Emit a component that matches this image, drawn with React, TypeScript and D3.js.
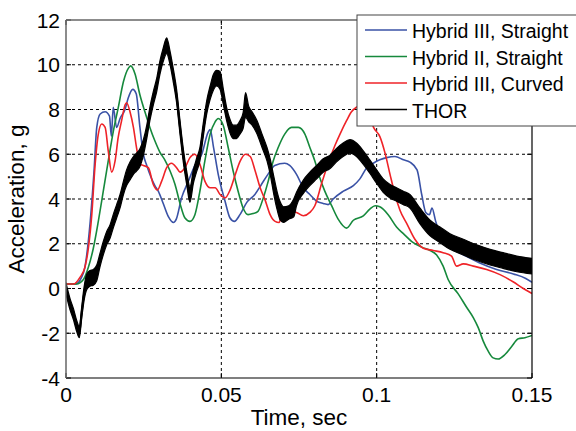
import React from "react";
import * as d3 from "d3";

const xTicks = [0, 0.05, 0.1, 0.15];
const xTickLabels = ["0", "0.05", "0.1", "0.15"];
const yTicks = [-4, -2, 0, 2, 4, 6, 8, 10, 12];
const seriesNames = ["Hybrid III, Straight", "Hybrid II, Straight", "Hybrid III, Curved", "THOR"];
const seriesColors = ["#3a52a6", "#16893c", "#ef2328", "#000000"];

const hybrid3Straight: [number, number][] = [
  [0, 0.2], [0.003, 0.2], [0.005, 0.5], [0.006, 0.9], [0.0078, 3.0], [0.009, 5.2], [0.0099, 7.2],
  [0.011, 7.8], [0.0126, 7.9], [0.014, 7.7], [0.0146, 6.8], [0.0152, 8.1], [0.0163, 7.2], [0.0174, 7.6],
  [0.019, 8.0], [0.02, 8.5], [0.0215, 8.9], [0.0226, 8.7], [0.0238, 7.2], [0.0249, 6.0], [0.026, 5.5],
  [0.0286, 4.6], [0.0297, 4.35], [0.0313, 3.8], [0.033, 3.2], [0.0346, 2.95], [0.0355, 3.1], [0.0372, 4.05],
  [0.0394, 4.8], [0.0415, 5.5], [0.0437, 6.0], [0.0458, 7.0], [0.0464, 7.1], [0.0475, 6.3], [0.049, 5.1],
  [0.0512, 3.9], [0.0528, 3.15], [0.0542, 3.0], [0.056, 3.3], [0.0582, 3.85], [0.0608, 4.2], [0.0629, 4.65],
  [0.065, 5.1], [0.0672, 5.5], [0.0704, 5.6], [0.072, 5.5], [0.0742, 5.1], [0.0764, 4.5], [0.0785, 4.2],
  [0.0807, 3.9], [0.0828, 3.8], [0.0844, 3.75], [0.086, 4.0], [0.0893, 4.35], [0.0925, 4.6], [0.0946, 4.9],
  [0.0968, 5.4], [0.0989, 5.6], [0.101, 5.75], [0.1032, 5.85], [0.1059, 5.9], [0.1086, 5.75], [0.1107, 5.65],
  [0.113, 5.3], [0.1145, 4.2], [0.1158, 3.4], [0.117, 3.3], [0.1178, 3.6], [0.119, 3.0], [0.1215, 2.1],
  [0.124, 1.8], [0.128, 1.5], [0.133, 1.15], [0.1386, 0.85], [0.144, 0.65], [0.148, 0.45], [0.15, 0.28],
];

const hybrid2Straight: [number, number][] = [
  [0, 0.2], [0.0034, 0.2], [0.0056, 0.4], [0.0072, 0.95], [0.0088, 1.8], [0.0104, 3.0], [0.012, 4.35],
  [0.0136, 5.7], [0.0152, 7.0], [0.0168, 8.07], [0.0185, 9.25], [0.0201, 9.85], [0.0208, 9.95], [0.0222, 9.6],
  [0.0238, 8.65], [0.0254, 7.9], [0.027, 7.2], [0.0286, 6.6], [0.0302, 6.1], [0.0318, 5.75], [0.0335, 5.25],
  [0.0351, 4.65], [0.0367, 3.8], [0.0383, 3.15], [0.0399, 3.0], [0.0415, 3.3], [0.0431, 4.35], [0.0447, 5.7],
  [0.0464, 6.9], [0.048, 7.45], [0.049, 7.6], [0.0506, 7.3], [0.0522, 6.3], [0.0538, 5.25], [0.0554, 4.35],
  [0.057, 3.6], [0.0586, 3.3], [0.0602, 3.35], [0.0618, 3.45], [0.0635, 4.05], [0.0651, 4.8], [0.0667, 5.7],
  [0.0683, 6.3], [0.0704, 6.9], [0.0726, 7.2], [0.0748, 7.2], [0.0769, 6.9], [0.0785, 6.3], [0.0801, 5.7],
  [0.0817, 4.95], [0.0833, 4.35], [0.0855, 3.7], [0.0876, 3.1], [0.0903, 2.7], [0.0925, 3.05], [0.0957, 3.25],
  [0.0978, 3.55], [0.0995, 3.7], [0.101, 3.65], [0.1037, 3.3], [0.1064, 2.75], [0.1086, 2.45], [0.1113, 2.1],
  [0.1145, 1.85], [0.1172, 1.7], [0.1193, 1.5], [0.1214, 1.0], [0.123, 0.4], [0.1263, -0.25], [0.129, -0.85],
  [0.1311, -1.3], [0.1327, -1.75], [0.1343, -2.35], [0.1359, -2.8], [0.1375, -3.1], [0.1391, -3.15],
  [0.1413, -2.95], [0.1434, -2.6], [0.1456, -2.25], [0.1477, -2.2], [0.15, -2.1],
];

const hybrid3Curved: [number, number][] = [
  [0, 0.2], [0.0024, 0.2], [0.0045, 0.5], [0.0061, 0.95], [0.0072, 1.8], [0.0083, 3.3], [0.0093, 5.4],
  [0.0104, 6.9], [0.0115, 7.35], [0.0126, 7.2], [0.0136, 6.15], [0.0147, 5.2], [0.0158, 5.7], [0.0168, 6.75],
  [0.0179, 7.5], [0.019, 8.2], [0.0195, 8.3], [0.0206, 7.9], [0.0217, 7.2], [0.0227, 6.3], [0.0238, 5.55],
  [0.0249, 5.5], [0.0265, 5.4], [0.0281, 4.65], [0.0294, 4.4], [0.0308, 4.8], [0.0324, 5.4], [0.034, 5.6],
  [0.0356, 5.4], [0.0367, 5.2], [0.0383, 5.4], [0.0399, 5.85], [0.0415, 6.0], [0.0431, 5.55], [0.0447, 4.8],
  [0.0464, 4.5], [0.048, 4.5], [0.0496, 4.2], [0.0512, 4.05], [0.0528, 4.4], [0.0545, 5.1], [0.0561, 5.7],
  [0.0577, 6.0], [0.0593, 5.9], [0.0609, 5.25], [0.0625, 4.5], [0.0641, 3.95], [0.0657, 3.3], [0.0673, 3.0],
  [0.0686, 2.95], [0.0694, 3.3], [0.0705, 3.5], [0.0742, 3.4], [0.0764, 3.25], [0.0785, 3.4], [0.0801, 3.7],
  [0.0823, 4.7], [0.0844, 5.6], [0.0866, 6.4], [0.0882, 6.9], [0.0903, 7.5], [0.0919, 7.9], [0.0935, 8.1],
  [0.0955, 8.2], [0.0975, 7.8], [0.099, 7.2], [0.101, 6.8], [0.1027, 6.05], [0.1043, 5.1], [0.1059, 4.2],
  [0.1075, 3.5], [0.1097, 2.9], [0.1123, 2.2], [0.115, 1.8], [0.1182, 1.7], [0.1214, 1.6], [0.1241, 1.45],
  [0.1257, 1.0], [0.1279, 1.1], [0.1311, 1.0], [0.1354, 0.85], [0.1397, 0.62], [0.1439, 0.3], [0.1472, 0.0],
  [0.15, -0.22],
];

const thorTime = [
  0, 0.0013, 0.0024, 0.0035, 0.0043, 0.005, 0.0058, 0.0067, 0.0077, 0.0088, 0.0099, 0.0109, 0.012, 0.0131,
  0.0142, 0.0152, 0.0163, 0.0174, 0.0185, 0.0195, 0.0206, 0.0217, 0.0227, 0.0238, 0.0249, 0.026, 0.027,
  0.0281, 0.0292, 0.0302, 0.0313, 0.0324, 0.0335, 0.0345, 0.0356, 0.0367, 0.0378, 0.0389, 0.0399, 0.041,
  0.042, 0.0431, 0.0442, 0.0453, 0.0464, 0.0474, 0.0485, 0.0496, 0.0506, 0.0517, 0.0528, 0.0538, 0.0549,
  0.056, 0.057, 0.0578, 0.0588, 0.0599, 0.0615, 0.0631, 0.0647, 0.0658, 0.0669, 0.068, 0.069, 0.07, 0.0717,
  0.0733, 0.0742, 0.0764, 0.0785, 0.0807, 0.0828, 0.0849, 0.087, 0.0892, 0.0914, 0.0935, 0.0957, 0.0978,
  0.1, 0.1021, 0.1043, 0.1064, 0.1086, 0.1107, 0.1139, 0.1172, 0.1204, 0.1236, 0.1279, 0.1322, 0.1365,
  0.1407, 0.1451, 0.15,
];
const thorMid = [
  0.0, -0.7, -1.15, -1.7, -1.95, -1.15, -0.25, 0.3, 0.45, 0.5, 0.7, 1.25, 1.8, 2.25,
  2.55, 3.0, 3.45, 3.9, 4.5, 4.95, 5.25, 5.5, 5.65, 5.85, 6.3, 7.0, 7.8,
  8.5, 9.1, 9.85, 10.45, 10.85, 10.3, 9.55, 8.6, 7.2, 5.9, 4.9, 4.2, 5.0,
  5.5, 6.0, 7.1, 8.1, 8.75, 9.2, 9.4, 9.3, 8.6, 7.8, 7.25, 7.0, 7.0,
  7.2, 7.5, 8.2, 7.8, 7.6, 7.2, 6.6, 6.0, 5.4, 4.6, 3.9, 3.45, 3.3, 3.4,
  3.6, 4.0, 4.55, 4.9, 5.2, 5.5, 5.65, 5.95, 6.2, 6.35, 6.2, 5.85, 5.45,
  5.0, 4.6, 4.35, 4.2, 4.05, 3.9, 3.25, 2.7, 2.4, 2.1, 1.85, 1.6, 1.4,
  1.25, 1.1, 1.0,
];
const thorSpread = [
  0.25, 0.25, 0.25, 0.25, 0.25, 0.25, 0.3, 0.35, 0.35, 0.35, 0.35, 0.3, 0.3, 0.3,
  0.3, 0.3, 0.3, 0.3, 0.3, 0.35, 0.4, 0.4, 0.4, 0.4, 0.35, 0.3, 0.3,
  0.3, 0.3, 0.3, 0.3, 0.35, 0.3, 0.3, 0.3, 0.3, 0.3, 0.3, 0.35, 0.3,
  0.3, 0.3, 0.3, 0.3, 0.3, 0.35, 0.35, 0.4, 0.35, 0.3, 0.3, 0.3, 0.3,
  0.3, 0.35, 0.55, 0.35, 0.3, 0.3, 0.3, 0.3, 0.35, 0.4, 0.4, 0.4, 0.35, 0.3,
  0.4, 0.3, 0.3, 0.3, 0.3, 0.3, 0.3, 0.3, 0.3, 0.3, 0.3, 0.3, 0.3,
  0.3, 0.3, 0.3, 0.3, 0.3, 0.3, 0.35, 0.35, 0.35, 0.35, 0.35, 0.35, 0.35,
  0.35, 0.35, 0.35,
];

const W = 576, H = 431;
const L = 66, R = 532, T = 20, B = 378;
const FONT = "'Liberation Sans', Arial, sans-serif";

export default function App() {
  const x = d3.scaleLinear().domain([0, 0.15]).range([L, R]);
  const y = d3.scaleLinear().domain([-4, 12]).range([B, T]);
  const line = d3.line<[number, number]>().x((d) => x(d[0])).y((d) => y(d[1])).curve(d3.curveMonotoneX);
  const thorData = thorTime.map((t, i) => ({ t, m: thorMid[i], s: thorSpread[i] }));
  const thorArea = d3.area<{ t: number; m: number; s: number }>()
    .x((d) => x(d.t)).y0((d) => y(d.m - d.s)).y1((d) => y(d.m + d.s)).curve(d3.curveMonotoneX);
  const thorLine = d3.line<{ t: number; m: number; s: number }>()
    .x((d) => x(d.t)).y((d) => y(d.m)).curve(d3.curveMonotoneX);
  const colored = [hybrid3Straight, hybrid2Straight, hybrid3Curved];
  const legendX = 357, legendY = 15, rowH = 26.5;

  return (
    <svg width={W} height={H} style={{ position: "absolute", left: 0, top: 0, background: "#fff" }} fontFamily={FONT}>
      <defs>
        <clipPath id="plot"><rect x={L} y={T} width={R - L} height={B - T} /></clipPath>
      </defs>
      <rect x={0} y={0} width={W} height={H} fill="#fff" />
      {yTicks.filter((v) => v !== -4 && v !== 12).map((v) => (
        <line key={"gy" + v} x1={L} x2={R} y1={y(v)} y2={y(v)} stroke="#000" strokeWidth={1} strokeDasharray="3,3" />
      ))}
      {xTicks.filter((v) => v !== 0 && v !== 0.15).map((v) => (
        <line key={"gx" + v} x1={x(v)} x2={x(v)} y1={T} y2={B} stroke="#000" strokeWidth={1} strokeDasharray="3,3" />
      ))}
      {yTicks.map((v) => (
        <g key={"ty" + v}>
          <line x1={L} x2={L + 5} y1={y(v)} y2={y(v)} stroke="#000" />
          <line x1={R - 5} x2={R} y1={y(v)} y2={y(v)} stroke="#000" />
        </g>
      ))}
      {xTicks.map((v) => (
        <g key={"tx" + v}>
          <line x1={x(v)} x2={x(v)} y1={B} y2={B - 5} stroke="#000" />
          <line x1={x(v)} x2={x(v)} y1={T} y2={T + 5} stroke="#000" />
        </g>
      ))}
      <g clipPath="url(#plot)">
        {colored.map((d, i) => (
          <path key={"s" + i} d={line(d) || ""} fill="none" stroke={seriesColors[i]} strokeWidth={1.6} strokeLinejoin="round" />
        ))}
        <path d={thorArea(thorData) || ""} fill="#000" stroke="#000" strokeWidth={1.2} strokeLinejoin="round" />
        <path d={thorLine(thorData) || ""} fill="none" stroke="#000" strokeWidth={2} />
      </g>
      <line x1={L} x2={R} y1={B} y2={B} stroke="#000" strokeWidth={1.2} />
      <line x1={R} x2={R} y1={T} y2={B} stroke="#000" strokeWidth={1.2} />
      <line x1={L} x2={R} y1={T} y2={T} stroke="#666" strokeWidth={1.5} />
      <line x1={L} x2={L} y1={T} y2={B} stroke="#666" strokeWidth={1.5} />
      {yTicks.map((v) => (
        <text key={"ly" + v} x={L - 6} y={y(v) + 7.5} textAnchor="end" fontSize={21} fill="#000">{String(v)}</text>
      ))}
      {xTicks.map((v, i) => (
        <text key={"lx" + v} x={x(v)} y={B + 24} textAnchor="middle" fontSize={21} fill="#000">{xTickLabels[i]}</text>
      ))}
      <text x={(L + R) / 2} y={425} textAnchor="middle" fontSize={22.5} fill="#000">Time, sec</text>
      <text transform={`translate(24, ${(T + B) / 2}) rotate(-90)`} textAnchor="middle" fontSize={22.5} fill="#000">Acceleration, g</text>
      <rect x={legendX} y={legendY} width={240} height={111} fill="#fff" stroke="#444" strokeWidth={1} />
      {seriesNames.map((name, i) => (
        <g key={"lg" + i}>
          <line x1={legendX + 8} x2={legendX + 50} y1={legendY + 15 + i * rowH} y2={legendY + 15 + i * rowH}
            stroke={seriesColors[i]} strokeWidth={1.6} />
          <text x={legendX + 55} y={legendY + 23 + i * rowH} fontSize={19.5} fill="#000">{name}</text>
        </g>
      ))}
    </svg>
  );
}
